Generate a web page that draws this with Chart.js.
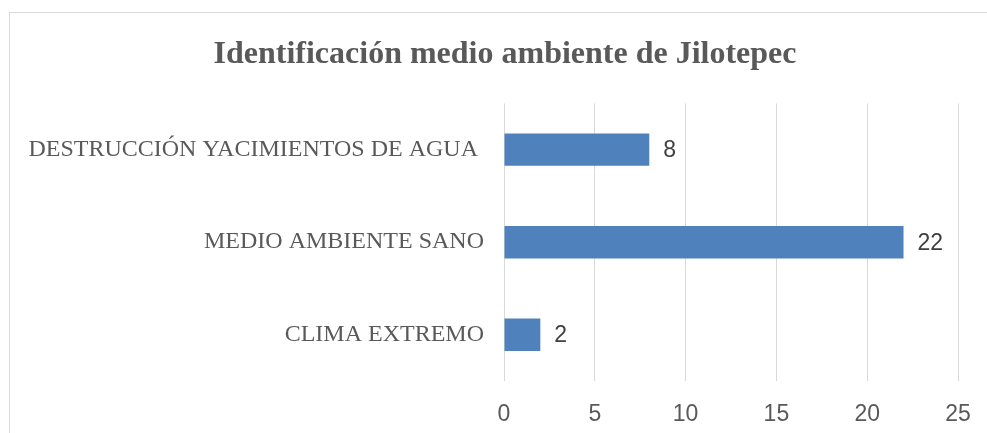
<!DOCTYPE html>
<html>
<head>
<meta charset="utf-8">
<script src="https://cdn.jsdelivr.net/npm/chart.js@4"></script>
<style>
  html, body { margin: 0; padding: 0; background: #fff; overflow: hidden; }
  #box { position: absolute; left: 9px; top: 12px; border: 1px solid #d9d9d9; width: 990px; height: 440px; }
  canvas { display: block; }
</style>
</head>
<body>
<div id="box"><canvas id="chart" width="990" height="440"></canvas></div>
<script>
// data
const categories = ['DESTRUCCIÓN YACIMIENTOS DE AGUA ', 'MEDIO AMBIENTE SANO', 'CLIMA EXTREMO'];
const values = [8, 22, 2];
const xTicks = [0, 5, 10, 15, 20, 25];

const barColor = '#4f81bd';
const textGray = '#595959';

// value labels at the end of each bar
const valueLabels = {
  id: 'valueLabels',
  afterDatasetsDraw(chart) {
    const ctx = chart.ctx;
    const meta = chart.getDatasetMeta(0);
    ctx.save();
    ctx.font = '23px "Liberation Sans", Arial, sans-serif';
    ctx.fillStyle = '#404040';
    ctx.textAlign = 'left';
    ctx.textBaseline = 'middle';
    meta.data.forEach((bar, i) => {
      ctx.fillText(String(values[i]), bar.x + 14, bar.y + 1);
    });
    ctx.restore();
  }
};

// center the title on the whole canvas, not on the padded box
const titleFullWidth = {
  id: 'titleFullWidth',
  afterLayout(chart) {
    if (chart.titleBlock) {
      chart.titleBlock.left = 0;
      chart.titleBlock.right = chart.width;
    }
  }
};

new Chart(document.getElementById('chart').getContext('2d'), {
  type: 'bar',
  data: {
    labels: categories,
    datasets: [{
      data: values,
      backgroundColor: barColor,
      barPercentage: 0.35,
      categoryPercentage: 1,
    }],
  },
  options: {
    responsive: false,
    animation: false,
    indexAxis: 'y',
    layout: { padding: { left: 0, right: 42, top: 0, bottom: 0 } },
    plugins: {
      legend: { display: false },
      tooltip: { enabled: false },
      title: {
        display: true,
        text: 'Identificación medio ambiente de Jilotepec',
        color: textGray,
        font: { family: '"Liberation Serif", "Times New Roman", serif', size: 32, weight: 'bold' },
        padding: { top: 23, bottom: 29 },
      },
    },
    scales: {
      x: {
        min: 0,
        max: 25,
        afterBuildTicks: axis => { axis.ticks = xTicks.map(v => ({ value: v })); },
        grid: { color: '#d9d9d9', lineWidth: 1, drawTicks: false },
        border: { display: false },
        ticks: {
          color: textGray,
          padding: 20,
          font: { family: '"Liberation Sans", Arial, sans-serif', size: 23 },
        },
        afterFit: axis => { axis.height = 72; },
      },
      y: {
        grid: { display: false, drawTicks: false },
        border: { display: false },
        ticks: {
          color: textGray,
          padding: 20,
          font: { family: '"Liberation Serif", "Times New Roman", serif', size: 24 },
        },
        afterFit: axis => { axis.width = 494; },
      },
    },
  },
  plugins: [valueLabels, titleFullWidth],
});
</script>
</body>
</html>
